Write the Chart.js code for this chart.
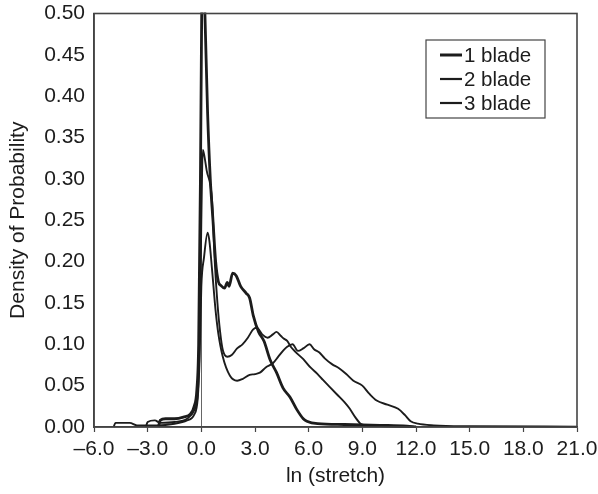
<!DOCTYPE html>
<html>
<head>
<meta charset="utf-8">
<script src="https://cdn.jsdelivr.net/npm/chart.js@4.4.1/dist/chart.umd.min.js"></script>
<style>
  html, body { margin: 0; padding: 0; background: #fff; }
  #wrap { width: 598px; height: 494px; position: relative; }
</style>
</head>
<body>
<div id="wrap"><canvas id="c" width="598" height="494"></canvas></div>
<script>
// ---- Data ----
const seriesNames = ["1 blade", "2 blade", "3 blade"];

const blade1X = [-2.4, -2.3, -2.0, -1.5, -1.0, -0.6, -0.4, -0.25, -0.15, -0.05, 0.02, 0.08, 0.2, 0.35, 0.5, 0.65, 0.8, 0.95, 1.1, 1.3, 1.45, 1.55, 1.75, 1.95, 2.2, 2.5, 2.7, 2.9, 3.2, 3.5, 3.85, 4.2, 4.57, 4.96, 5.34, 5.7, 5.9, 6.5, 8.0, 10.0, 11.5, 12.0];
const blade1Y = [0.0, 0.008, 0.010, 0.010, 0.012, 0.016, 0.025, 0.045, 0.10, 0.30, 0.50, 0.58, 0.50, 0.38, 0.30, 0.25, 0.20, 0.176, 0.171, 0.168, 0.175, 0.170, 0.186, 0.183, 0.170, 0.162, 0.156, 0.135, 0.115, 0.104, 0.081, 0.066, 0.047, 0.036, 0.021, 0.010, 0.007, 0.004, 0.003, 0.002, 0.001, 0.0];

const blade2X = [-3.1, -3.0, -2.6, -2.3, -1.5, -0.8, -0.4, -0.2, -0.1, 0.0, 0.08, 0.15, 0.3, 0.6, 0.75, 0.9, 1.05, 1.2, 1.45, 1.7, 2.0, 2.3, 2.6, 2.9, 3.1, 3.4, 3.7, 4.0, 4.2, 4.45, 4.6, 4.8, 5.0, 5.3, 5.7, 6.1, 6.5, 6.8, 7.2, 7.6, 8.0, 8.3, 8.6, 8.9, 9.2, 10.0, 12.0];
const blade2Y = [0.0, 0.006, 0.008, 0.005, 0.006, 0.010, 0.020, 0.040, 0.10, 0.25, 0.335, 0.330, 0.310, 0.274, 0.200, 0.150, 0.115, 0.093, 0.085, 0.087, 0.095, 0.100, 0.108, 0.118, 0.120, 0.112, 0.108, 0.112, 0.115, 0.110, 0.107, 0.104, 0.097, 0.090, 0.082, 0.072, 0.064, 0.057, 0.048, 0.039, 0.030, 0.022, 0.012, 0.004, 0.002, 0.001, 0.0];

const blade3X = [-4.9, -4.8, -4.0, -3.6, -2.5, -1.5, -0.8, -0.4, -0.2, -0.1, 0.0, 0.15, 0.35, 0.45, 0.6, 0.8, 0.95, 1.2, 1.6, 2.0, 2.3, 2.7, 3.0, 3.3, 3.6, 4.0, 4.3, 4.6, 4.8, 5.1, 5.4, 5.7, 6.05, 6.3, 6.6, 6.9, 7.3, 7.7, 8.1, 8.5, 9.0, 9.4, 9.8, 10.4, 11.0, 11.4, 11.7, 12.1, 13.0, 15.0, 21.0];
const blade3Y = [0.0, 0.005, 0.005, 0.002, 0.002, 0.004, 0.008, 0.015, 0.035, 0.08, 0.17, 0.205, 0.235, 0.225, 0.190, 0.140, 0.113, 0.085, 0.062, 0.056, 0.058, 0.063, 0.064, 0.066, 0.072, 0.077, 0.085, 0.093, 0.097, 0.100, 0.092, 0.095, 0.100, 0.094, 0.090, 0.083, 0.076, 0.071, 0.064, 0.056, 0.050, 0.040, 0.032, 0.027, 0.022, 0.014, 0.007, 0.004, 0.002, 0.001, 0.0005];

const xTickValues = [-6, -3, 0, 3, 6, 9, 12, 15, 18, 21];
const xTickLabels = ["\u20136.0", "\u20133.0", "0.0", "3.0", "6.0", "9.0", "12.0", "15.0", "18.0", "21.0"];
const yTickValues = [0, 0.05, 0.10, 0.15, 0.20, 0.25, 0.30, 0.35, 0.40, 0.45, 0.50];
const yTickLabels = ["0.00", "0.05", "0.10", "0.15", "0.20", "0.25", "0.30", "0.35", "0.40", "0.45", "0.50"];

const xTitle = "ln (stretch)";
const yTitle = "Density of Probability";

// ---- Build ----
function pts(xs, ys) { return xs.map((x, i) => ({ x: x, y: ys[i] })); }
const FONT = "'Liberation Sans', Arial, Helvetica, sans-serif";
const FS = 21;
const INK = "#1c1c1c";
const lineWidths = [2.8, 1.9, 1.9];

const frame = {
  id: 'frame',
  beforeDatasetsDraw(chart) {
    const { ctx, chartArea: a } = chart;
    ctx.save();
    ctx.strokeStyle = '#666';
    ctx.lineWidth = 1;
    const x0 = Math.round(chart.scales.x.getPixelForValue(0)) + 0.5;
    ctx.beginPath(); ctx.moveTo(x0, a.top); ctx.lineTo(x0, a.bottom); ctx.stroke();
    ctx.restore();
  },
  afterDatasetsDraw(chart) {
    const { ctx, chartArea: a } = chart;
    ctx.save();
    ctx.strokeStyle = '#444';
    ctx.lineWidth = 1.6;
    ctx.strokeRect(a.left, a.top, a.right - a.left, a.bottom - a.top);
    // legend box
    const bx = a.right - 151, by = a.top + 26.5, bw = 119, bh = 78;
    ctx.lineWidth = 1.2;
    ctx.strokeStyle = '#444';
    ctx.fillStyle = '#fff';
    ctx.fillRect(bx, by, bw, bh);
    ctx.strokeRect(bx, by, bw, bh);
    ctx.font = "20.5px " + FONT;
    ctx.textBaseline = 'middle';
    ctx.textAlign = 'left';
    chart.data.datasets.forEach((ds, i) => {
      const y = by + 15 + i * 24;
      ctx.strokeStyle = INK;
      ctx.lineWidth = i === 0 ? 3 : 2.2;
      ctx.beginPath(); ctx.moveTo(bx + 14, y); ctx.lineTo(bx + 36, y); ctx.stroke();
      ctx.fillStyle = INK;
      ctx.fillText(ds.label, bx + 38, y + 1);
    });
    ctx.restore();
  }
};

const datasets = [
  [blade1X, blade1Y], [blade2X, blade2Y], [blade3X, blade3Y]
].map((s, i) => ({
  label: seriesNames[i],
  data: pts(s[0], s[1]),
  borderColor: INK,
  borderWidth: lineWidths[i],
  pointRadius: 0,
  fill: false,
  cubicInterpolationMode: 'monotone',
  clip: 1
}));

new Chart(document.getElementById('c'), {
  type: 'line',
  data: { datasets: datasets },
  options: {
    responsive: false,
    animation: false,
    layout: { padding: { left: 0, right: 21, top: 13.5, bottom: 0 } },
    plugins: { legend: { display: false }, tooltip: { enabled: false } },
    scales: {
      x: {
        type: 'linear',
        min: -6, max: 21,
        afterBuildTicks(s) { s.ticks = xTickValues.map(v => ({ value: v })); },
        afterFit(s) { s.height = 67; s.paddingLeft = 0; s.paddingRight = 0; },
        ticks: {
          autoSkip: false, maxRotation: 0, padding: 5,
          color: INK, font: { family: FONT, size: FS },
          callback(v) { const i = xTickValues.indexOf(v); return i >= 0 ? xTickLabels[i] : ''; }
        },
        grid: { drawOnChartArea: false, drawTicks: true, tickLength: 5, tickColor: '#444', tickWidth: 1.2 },
        border: { display: true, color: '#444', width: 1.6 },
        title: { display: true, text: xTitle, color: INK, font: { family: FONT, size: FS }, padding: { top: 0, bottom: 5 } }
      },
      y: {
        type: 'linear',
        min: 0, max: 0.5,
        afterBuildTicks(s) { s.ticks = yTickValues.map(v => ({ value: v })); },
        afterFit(s) { s.width = 94; s.paddingTop = 0; s.paddingBottom = 0; },
        ticks: {
          autoSkip: false, padding: 9,
          color: INK, font: { family: FONT, size: FS },
          callback(v) { const i = yTickValues.findIndex(t => Math.abs(t - v) < 1e-9); return i >= 0 ? yTickLabels[i] : ''; }
        },
        grid: { drawOnChartArea: false, drawTicks: false },
        border: { display: true, color: '#444', width: 1.6 },
        title: { display: true, text: yTitle, color: INK, font: { family: FONT, size: FS }, padding: { top: 6, bottom: 0 } }
      }
    }
  },
  plugins: [frame]
});
</script>
</body>
</html>
